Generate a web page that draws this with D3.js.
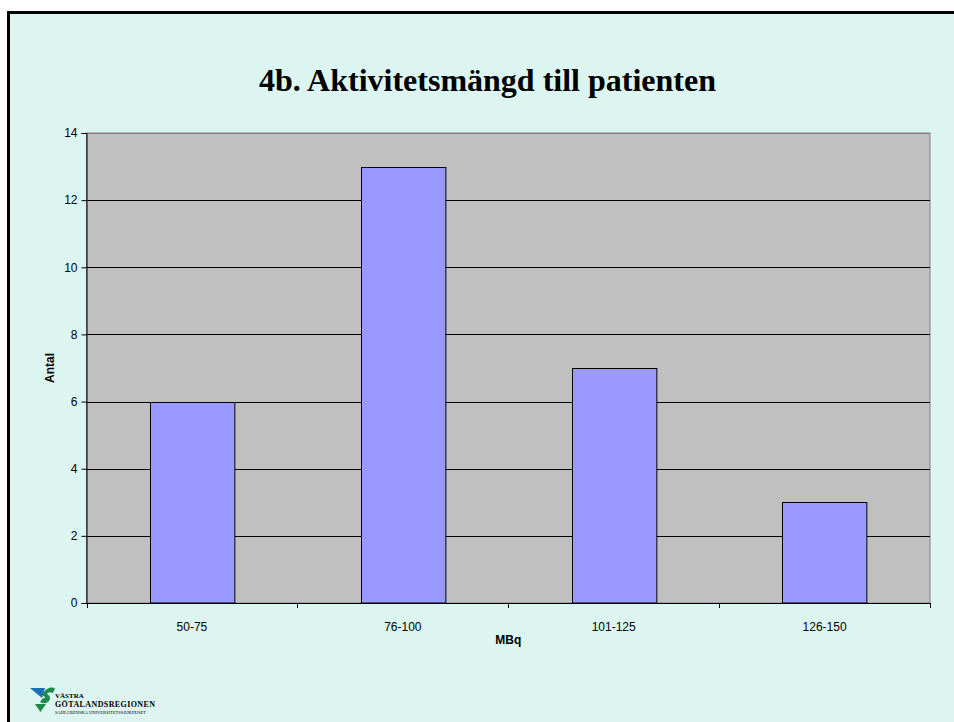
<!DOCTYPE html>
<html>
<head>
<meta charset="utf-8">
<script src="https://cdn.jsdelivr.net/npm/d3@7"></script>
<style>
  body { margin: 0; background: #fff; }
  svg { display: block; }
</style>
</head>
<body>
<svg id="chart" width="954" height="722"></svg>
<script>
// chart data
const categories = ["50-75", "76-100", "101-125", "126-150"];
const counts = [6, 13, 7, 3];
const yTicks = [0, 2, 4, 6, 8, 10, 12, 14];
const titleText = "4b. Aktivitetsmängd till patienten";

const svg = d3.select("#chart");

// slide background + frame (top & left edge only visible)
svg.append("rect")
  .attr("x", 8).attr("y", 12)
  .attr("width", 946).attr("height", 710)
  .style("fill", "#dcf5f1");
svg.append("line")
  .attr("x1", 7).attr("y1", 12.5).attr("x2", 954).attr("y2", 12.5)
  .style("stroke", "#000").style("stroke-width", 3);
svg.append("line")
  .attr("x1", 8.5).attr("y1", 11).attr("x2", 8.5).attr("y2", 722)
  .style("stroke", "#000").style("stroke-width", 3);

// title
svg.append("text")
  .attr("x", 487.5).attr("y", 91)
  .attr("text-anchor", "middle")
  .style("font-family", "'Liberation Serif', 'Times New Roman', serif")
  .style("font-weight", "bold")
  .style("font-size", "32px")
  .text(titleText);

const plot = { left: 86.5, right: 930, top: 133, bottom: 603 };

const x = d3.scaleBand()
  .domain(categories)
  .range([plot.left, plot.right])
  .paddingInner(0.6)
  .paddingOuter(0.3);

const xBand = d3.scaleBand()
  .domain(categories)
  .range([plot.left, plot.right]);

const y = d3.scaleLinear()
  .domain([0, 14])
  .range([plot.bottom, plot.top]);

// plot area
svg.append("rect")
  .attr("x", plot.left).attr("y", plot.top)
  .attr("width", plot.right - plot.left)
  .attr("height", plot.bottom - plot.top)
  .style("fill", "#c0c0c0")
  .style("stroke", "#808080")
  .style("stroke-width", 1);

// gridlines
svg.append("g")
  .selectAll("line")
  .data(yTicks.filter((d) => d > 0))
  .join("line")
  .attr("x1", plot.left).attr("x2", plot.right)
  .attr("y1", (d) => Math.round(y(d)) + 0.5)
  .attr("y2", (d) => Math.round(y(d)) + 0.5)
  .style("stroke", (d) => (d === 14 ? "#808080" : "#000"))
  .style("stroke-width", 1);

// bars
svg.append("g")
  .selectAll("rect")
  .data(counts)
  .join("rect")
  .attr("x", (d, i) => Math.round(x(categories[i])) + 0.5)
  .attr("y", (d) => Math.round(y(d)) + 0.5)
  .attr("width", x.bandwidth())
  .attr("height", (d) => plot.bottom - Math.round(y(d)) - 0.5)
  .style("fill", "#9999ff")
  .style("stroke", "#000")
  .style("stroke-width", 1);

// y axis
const yAxis = svg.append("g")
  .attr("transform", `translate(${plot.left},0)`)
  .call(d3.axisLeft(y).tickValues(yTicks).tickSize(5).tickPadding(4));

// x axis with ticks at category boundaries
const xAxis = svg.append("g")
  .attr("transform", `translate(0,${plot.bottom})`);
xAxis.append("line")
  .attr("x1", plot.left).attr("x2", plot.right + 0.5)
  .attr("y1", 0.5).attr("y2", 0.5)
  .style("stroke", "#000");
xAxis.selectAll("line.tick")
  .data(categories.concat(["end"]))
  .join("line")
  .attr("class", "tick")
  .attr("x1", (d, i) => Math.round(plot.left + i * xBand.bandwidth()) + 0.5)
  .attr("x2", (d, i) => Math.round(plot.left + i * xBand.bandwidth()) + 0.5)
  .attr("y1", 0).attr("y2", 5)
  .style("stroke", "#000");
xAxis.selectAll("text")
  .data(categories)
  .join("text")
  .attr("x", (d) => xBand(d) + xBand.bandwidth() / 2)
  .attr("y", 28)
  .attr("text-anchor", "middle")
  .text((d) => d);

[yAxis, xAxis].forEach((g) => {
  g.selectAll("text")
    .style("font-family", "'Liberation Sans', Arial, sans-serif")
    .style("font-size", "12px")
    .style("fill", "#000");
  g.selectAll(".domain").style("stroke", "#000");
  g.selectAll(".tick line").style("stroke", "#000");
});

// axis titles
svg.append("text")
  .attr("x", (plot.left + plot.right) / 2)
  .attr("y", 644)
  .attr("text-anchor", "middle")
  .style("font-family", "'Liberation Sans', Arial, sans-serif")
  .style("font-weight", "bold")
  .style("font-size", "12px")
  .text("MBq");

svg.append("text")
  .attr("transform", `translate(54,${(plot.top + plot.bottom) / 2}) rotate(-90)`)
  .attr("text-anchor", "middle")
  .style("font-family", "'Liberation Sans', Arial, sans-serif")
  .style("font-weight", "bold")
  .style("font-size", "12px")
  .text("Antal");

// footer logo
const logo = svg.append("g");
logo.append("path")
  .attr("d", "M30,688 L45,688 L42,698 Z")
  .style("fill", "#1a6fb5");
logo.append("path")
  .attr("d", "M44,692 Q48,686 55,688 L53,693 Q48,691 47,694 Q52,697 49,701 Q45,705 40,702 L43,698 Q45,699 45,697 Q41,695 44,692 Z")
  .style("fill", "#1d8a4a");
logo.append("path")
  .attr("d", "M35,704 L46,704 L40.5,712 Z")
  .style("fill", "#1d8a4a");

const logoFont = "'Liberation Serif', 'Times New Roman', serif";
logo.append("text")
  .attr("x", 55).attr("y", 698)
  .style("font-family", logoFont).style("font-size", "7px")
  .style("font-weight", "bold")
  .text("VÄSTRA");
logo.append("text")
  .attr("x", 55).attr("y", 707)
  .style("font-family", logoFont).style("font-size", "8px")
  .style("font-weight", "bold")
  .style("letter-spacing", "0.4px")
  .text("GÖTALANDSREGIONEN");
logo.append("text")
  .attr("x", 55).attr("y", 713.5)
  .style("font-family", logoFont).style("font-size", "4.5px")
  .text("SAHLGRENSKA UNIVERSITETSSJUKHUSET");
</script>
</body>
</html>
